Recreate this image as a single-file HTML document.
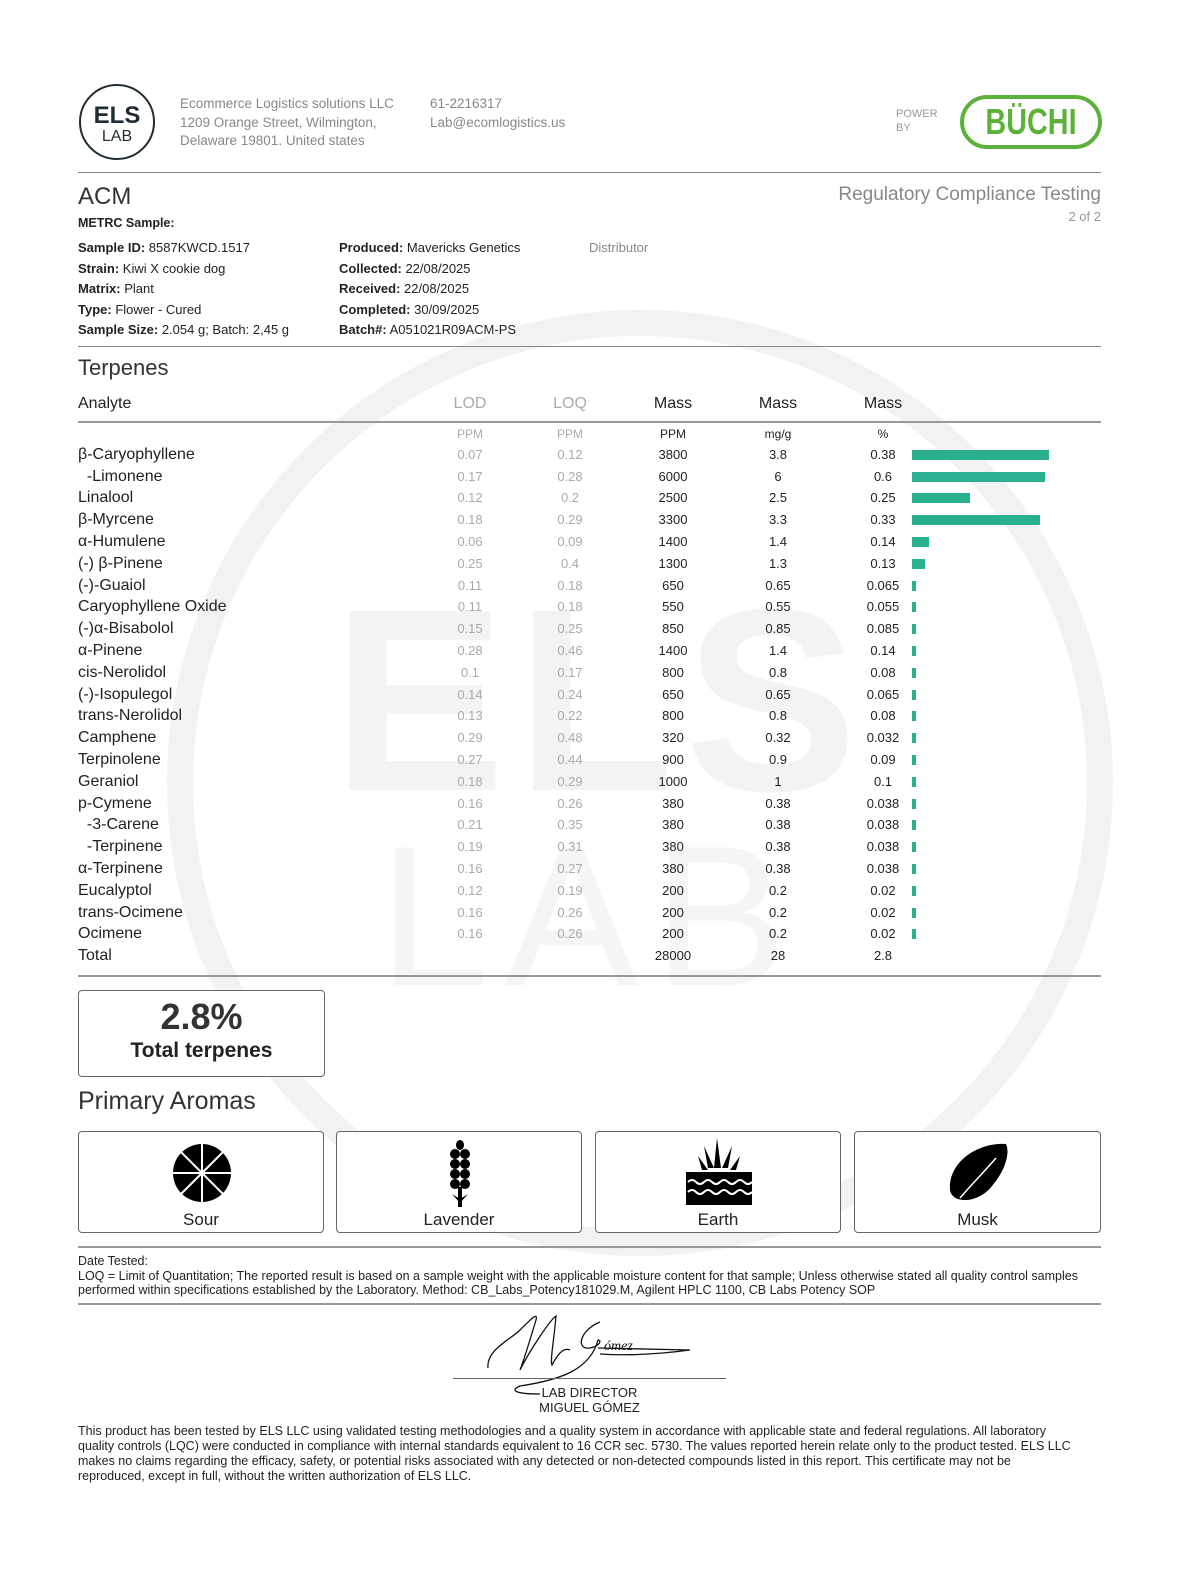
<!DOCTYPE html>
<html><head><meta charset="utf-8"><style>
*{margin:0;padding:0;box-sizing:border-box}
body{width:1201px;height:1595px;background:#fff;font-family:"Liberation Sans",sans-serif;color:#222;position:relative;overflow:hidden}
.a{position:absolute;white-space:nowrap}
.hr{position:absolute;left:78px;width:1023px;height:2px;background:#999}
.r{position:absolute;left:0;width:1201px;height:22px;line-height:22px}
.r span{position:absolute;text-align:center;font-size:13px}
.r .n{left:78px;text-align:left;font-size:16px;color:#222}
.r .d{left:440px;width:60px;color:#aaa}
.r .q{left:540px;width:60px;color:#aaa}
.r .p{left:643px;width:60px}
.r .m{left:748px;width:60px}
.r .c{left:853px;width:60px}
.r i{position:absolute;left:912px;top:6px;height:10px;background:#2bb08f}
.box{position:absolute;border:1px solid #666;border-radius:4px;background:#fff}
.lbl{position:absolute;bottom:2px;width:100%;text-align:center;font-size:17px}
</style></head><body>
<svg class="a" style="left:0;top:0" width="1201" height="1595">
<circle cx="640" cy="783" r="460" fill="none" stroke="#f2f2f2" stroke-width="26"/>
<text x="600" y="790" text-anchor="middle" font-family="Liberation Sans" font-weight="bold" font-size="260" fill="#f3f3f3" letter-spacing="10">ELS</text>
<text x="590" y="985" text-anchor="middle" font-family="Liberation Sans" font-size="200" fill="#f5f5f5" letter-spacing="15">LAB</text>
</svg>
<svg class="a" style="left:78px;top:83px" width="78" height="78"><circle cx="39" cy="39" r="37" fill="#fff" stroke="#1f2d33" stroke-width="2"/>
<text x="39" y="40" text-anchor="middle" font-family="Liberation Sans" font-weight="bold" font-size="24" fill="#1f2d33">ELS</text>
<text x="39" y="58" text-anchor="middle" font-family="Liberation Sans" font-size="16" fill="#1f2d33">LAB</text></svg>
<div class="a" style="left:180px;top:95px;font-size:13.5px;color:#888;line-height:18.5px">Ecommerce Logistics solutions LLC<br>1209 Orange Street, Wilmington,<br>Delaware 19801. United states</div>
<div class="a" style="left:430px;top:95px;font-size:13.5px;color:#888;line-height:18.5px">61-2216317<br>Lab@ecomlogistics.us</div>
<div class="a" style="left:896px;top:107px;font-size:11px;color:#999;line-height:14px">POWER<br>BY</div>
<div class="a" style="left:960px;top:95px;width:142px;height:54px;border:4px solid #5cb13a;border-radius:27px"></div>
<div class="a" style="left:960px;top:99px;width:142px;color:#5cb13a;font-weight:bold;font-size:36px;text-align:center;line-height:46px;transform:scaleX(0.8)">BÜCHI</div>
<div class="hr" style="top:172px;height:1px;background:#888"></div>
<div class="a" style="left:78px;top:183px;font-size:24px;color:#333">ACM</div>
<div class="a" style="left:78px;top:216px;font-size:12.5px;font-weight:bold">METRC Sample:</div>
<div class="a" style="right:100px;top:184px;font-size:19px;color:#888">Regulatory Compliance Testing</div>
<div class="a" style="right:100px;top:209px;font-size:13px;color:#999">2 of 2</div>
<div class="a" style="left:78px;top:238px;font-size:13px;line-height:20.5px"><b>Sample ID:</b> 8587KWCD.1517<br><b>Strain:</b> Kiwi X cookie dog<br><b>Matrix:</b> Plant<br><b>Type:</b> Flower - Cured<br><b>Sample Size:</b> 2.054 g; Batch: 2,45 g</div>
<div class="a" style="left:339px;top:238px;font-size:13px;line-height:20.5px"><b>Produced:</b> Mavericks Genetics<br><b>Collected:</b> 22/08/2025<br><b>Received:</b> 22/08/2025<br><b>Completed:</b> 30/09/2025<br><b>Batch#:</b> A051021R09ACM-PS</div>
<div class="a" style="left:589px;top:238px;font-size:13px;line-height:20.5px;color:#888">Distributor</div>
<div class="hr" style="top:346px;height:1px;background:#888"></div>
<div class="a" style="left:78px;top:355px;font-size:22px;color:#333">Terpenes</div>
<div class="r" style="top:393px;font-size:16px"><span class="n">Analyte</span><span class="d" style="font-size:16px">LOD</span><span class="q" style="font-size:16px">LOQ</span><span class="p" style="font-size:16px">Mass</span><span class="m" style="font-size:16px">Mass</span><span class="c" style="font-size:16px">Mass</span></div>
<div class="hr" style="top:421px"></div>
<div class="r" style="top:423px"><span class="d" style="font-size:12px">PPM</span><span class="q" style="font-size:12px">PPM</span><span class="p" style="font-size:12px">PPM</span><span class="m" style="font-size:12px">mg/g</span><span class="c" style="font-size:12px">%</span></div>
<div class="r" style="top:444px"><span class="n">β-Caryophyllene</span><span class="d">0.07</span><span class="q">0.12</span><span class="p">3800</span><span class="m">3.8</span><span class="c">0.38</span><i style="width:137px"></i></div>
<div class="r" style="top:466px"><span class="n">&nbsp; -Limonene</span><span class="d">0.17</span><span class="q">0.28</span><span class="p">6000</span><span class="m">6</span><span class="c">0.6</span><i style="width:133px"></i></div>
<div class="r" style="top:487px"><span class="n">Linalool</span><span class="d">0.12</span><span class="q">0.2</span><span class="p">2500</span><span class="m">2.5</span><span class="c">0.25</span><i style="width:58px"></i></div>
<div class="r" style="top:509px"><span class="n">β-Myrcene</span><span class="d">0.18</span><span class="q">0.29</span><span class="p">3300</span><span class="m">3.3</span><span class="c">0.33</span><i style="width:128px"></i></div>
<div class="r" style="top:531px"><span class="n">α-Humulene</span><span class="d">0.06</span><span class="q">0.09</span><span class="p">1400</span><span class="m">1.4</span><span class="c">0.14</span><i style="width:17px"></i></div>
<div class="r" style="top:553px"><span class="n">(-) β-Pinene</span><span class="d">0.25</span><span class="q">0.4</span><span class="p">1300</span><span class="m">1.3</span><span class="c">0.13</span><i style="width:13px"></i></div>
<div class="r" style="top:575px"><span class="n">(-)-Guaiol</span><span class="d">0.11</span><span class="q">0.18</span><span class="p">650</span><span class="m">0.65</span><span class="c">0.065</span><i style="width:4px"></i></div>
<div class="r" style="top:596px"><span class="n">Caryophyllene Oxide</span><span class="d">0.11</span><span class="q">0.18</span><span class="p">550</span><span class="m">0.55</span><span class="c">0.055</span><i style="width:4px"></i></div>
<div class="r" style="top:618px"><span class="n">(-)α-Bisabolol</span><span class="d">0.15</span><span class="q">0.25</span><span class="p">850</span><span class="m">0.85</span><span class="c">0.085</span><i style="width:4px"></i></div>
<div class="r" style="top:640px"><span class="n">α-Pinene</span><span class="d">0.28</span><span class="q">0.46</span><span class="p">1400</span><span class="m">1.4</span><span class="c">0.14</span><i style="width:4px"></i></div>
<div class="r" style="top:662px"><span class="n">cis-Nerolidol</span><span class="d">0.1</span><span class="q">0.17</span><span class="p">800</span><span class="m">0.8</span><span class="c">0.08</span><i style="width:4px"></i></div>
<div class="r" style="top:684px"><span class="n">(-)-Isopulegol</span><span class="d">0.14</span><span class="q">0.24</span><span class="p">650</span><span class="m">0.65</span><span class="c">0.065</span><i style="width:4px"></i></div>
<div class="r" style="top:705px"><span class="n">trans-Nerolidol</span><span class="d">0.13</span><span class="q">0.22</span><span class="p">800</span><span class="m">0.8</span><span class="c">0.08</span><i style="width:4px"></i></div>
<div class="r" style="top:727px"><span class="n">Camphene</span><span class="d">0.29</span><span class="q">0.48</span><span class="p">320</span><span class="m">0.32</span><span class="c">0.032</span><i style="width:4px"></i></div>
<div class="r" style="top:749px"><span class="n">Terpinolene</span><span class="d">0.27</span><span class="q">0.44</span><span class="p">900</span><span class="m">0.9</span><span class="c">0.09</span><i style="width:4px"></i></div>
<div class="r" style="top:771px"><span class="n">Geraniol</span><span class="d">0.18</span><span class="q">0.29</span><span class="p">1000</span><span class="m">1</span><span class="c">0.1</span><i style="width:4px"></i></div>
<div class="r" style="top:793px"><span class="n">p-Cymene</span><span class="d">0.16</span><span class="q">0.26</span><span class="p">380</span><span class="m">0.38</span><span class="c">0.038</span><i style="width:4px"></i></div>
<div class="r" style="top:814px"><span class="n">&nbsp; -3-Carene</span><span class="d">0.21</span><span class="q">0.35</span><span class="p">380</span><span class="m">0.38</span><span class="c">0.038</span><i style="width:4px"></i></div>
<div class="r" style="top:836px"><span class="n">&nbsp; -Terpinene</span><span class="d">0.19</span><span class="q">0.31</span><span class="p">380</span><span class="m">0.38</span><span class="c">0.038</span><i style="width:4px"></i></div>
<div class="r" style="top:858px"><span class="n">α-Terpinene</span><span class="d">0.16</span><span class="q">0.27</span><span class="p">380</span><span class="m">0.38</span><span class="c">0.038</span><i style="width:4px"></i></div>
<div class="r" style="top:880px"><span class="n">Eucalyptol</span><span class="d">0.12</span><span class="q">0.19</span><span class="p">200</span><span class="m">0.2</span><span class="c">0.02</span><i style="width:4px"></i></div>
<div class="r" style="top:902px"><span class="n">trans-Ocimene</span><span class="d">0.16</span><span class="q">0.26</span><span class="p">200</span><span class="m">0.2</span><span class="c">0.02</span><i style="width:4px"></i></div>
<div class="r" style="top:923px"><span class="n">Ocimene</span><span class="d">0.16</span><span class="q">0.26</span><span class="p">200</span><span class="m">0.2</span><span class="c">0.02</span><i style="width:4px"></i></div>
<div class="r" style="top:945px"><span class="n">Total</span><span class="p">28000</span><span class="m">28</span><span class="c">2.8</span></div>
<div class="hr" style="top:975px"></div>
<div class="box" style="left:78px;top:990px;width:247px;height:87px;text-align:center">
<div style="font-size:36px;font-weight:bold;color:#333;margin-top:6px;line-height:40px">2.8%</div>
<div style="font-size:21px;font-weight:bold;color:#222;line-height:28px">Total terpenes</div></div>
<div class="a" style="left:78px;top:1087px;font-size:25px;color:#333">Primary Aromas</div>
<div class="box" style="left:78px;top:1131px;width:246px;height:102px">
<svg class="a" style="left:93px;top:11px" width="60" height="60"><circle cx="30" cy="30" r="29" fill="#000"/><g stroke="#fff" stroke-width="2"><line x1="30" y1="1" x2="30" y2="59"/><line x1="1" y1="30" x2="59" y2="30"/><line x1="9" y1="9" x2="51" y2="51"/><line x1="51" y1="9" x2="9" y2="51"/></g></svg>
<div class="lbl">Sour</div></div>
<div class="box" style="left:336px;top:1131px;width:246px;height:102px">
<svg class="a" style="left:110px;top:7px" width="26" height="68"><g fill="#000"><ellipse cx="13" cy="6" rx="4" ry="5"/><ellipse cx="8" cy="15" rx="5" ry="5"/><ellipse cx="18" cy="15" rx="5" ry="5"/><ellipse cx="8" cy="25" rx="5" ry="5"/><ellipse cx="18" cy="25" rx="5" ry="5"/><ellipse cx="8" cy="35" rx="5" ry="5"/><ellipse cx="18" cy="35" rx="5" ry="5"/><ellipse cx="8" cy="45" rx="5" ry="5"/><ellipse cx="18" cy="45" rx="5" ry="5"/><rect x="11" y="48" width="4" height="20"/><path d="M5 55 L13 64 L21 55 L13 60Z"/></g></svg>
<div class="lbl">Lavender</div></div>
<div class="box" style="left:595px;top:1131px;width:246px;height:102px">
<svg class="a" style="left:88px;top:6px" width="70" height="68"><g fill="#000"><path d="M33 0 L37 30 L30 30Z M20 8 L30 30 L24 30Z M48 8 L44 30 L38 30Z M14 18 L24 32 L18 32Z M56 18 L52 32 L46 32Z"/><rect x="2" y="34" width="66" height="33"/></g><g fill="none" stroke="#fff" stroke-width="2"><path d="M4 44 q4 -4 8 0 t8 0 t8 0 t8 0 t8 0 t8 0 t8 0 t8 0"/><path d="M4 54 q4 -4 8 0 t8 0 t8 0 t8 0 t8 0 t8 0 t8 0 t8 0"/></g></svg>
<div class="lbl">Earth</div></div>
<div class="box" style="left:854px;top:1131px;width:247px;height:102px">
<svg class="a" style="left:93px;top:10px" width="62" height="62"><path d="M58 2 C30 0 0 20 2 48 C4 62 30 62 44 44 C58 28 62 10 58 2Z" fill="#000"/><path d="M12 56 C24 42 36 30 48 16" stroke="#fff" stroke-width="1.5" fill="none"/></svg>
<div class="lbl">Musk</div></div>
<div class="hr" style="top:1246px"></div>
<div class="a" style="left:78px;top:1254px;font-size:12.5px;line-height:14.5px;white-space:normal;width:1005px">Date Tested:<br>LOQ = Limit of Quantitation; The reported result is based on a sample weight with the applicable moisture content for that sample; Unless otherwise stated all quality control samples performed within specifications established by the Laboratory. Method: CB_Labs_Potency181029.M, Agilent HPLC 1100, CB Labs Potency SOP</div>
<div class="hr" style="top:1303px"></div>
<svg class="a" style="left:480px;top:1310px" width="230" height="90"><g fill="none" stroke="#111" stroke-width="1.3"><path d="M8 58 C6 40 30 30 40 20 C52 8 58 2 56 10 C50 30 44 50 40 60 C50 40 70 10 76 6 C74 30 70 50 72 55 C80 40 85 38 90 40"/><path d="M120 12 C100 20 95 40 110 38 C120 36 122 30 118 30 C110 60 80 70 40 76 C30 80 34 84 60 84"/><path d="M118 38 L210 40 C180 44 150 46 120 44"/></g><text x="124" y="40" font-family="Liberation Serif" font-style="italic" font-size="14" fill="#111">ómez</text></svg>
<div class="a" style="left:453px;top:1378px;width:273px;height:1px;background:#666"></div>
<div class="a" style="left:453px;top:1385px;width:273px;text-align:center;font-size:13px;line-height:15px">LAB DIRECTOR<br>MIGUEL GÓMEZ</div>
<div class="a" style="left:78px;top:1424px;font-size:12.5px;line-height:15px;white-space:normal;width:1000px">This product has been tested by ELS LLC using validated testing methodologies and a quality system in accordance with applicable state and federal regulations. All laboratory quality controls (LQC) were conducted in compliance with internal standards equivalent to 16 CCR sec. 5730. The values reported herein relate only to the product tested. ELS LLC makes no claims regarding the efficacy, safety, or potential risks associated with any detected or non-detected compounds listed in this report. This certificate may not be reproduced, except in full, without the written authorization of ELS LLC.</div>
</body></html>
